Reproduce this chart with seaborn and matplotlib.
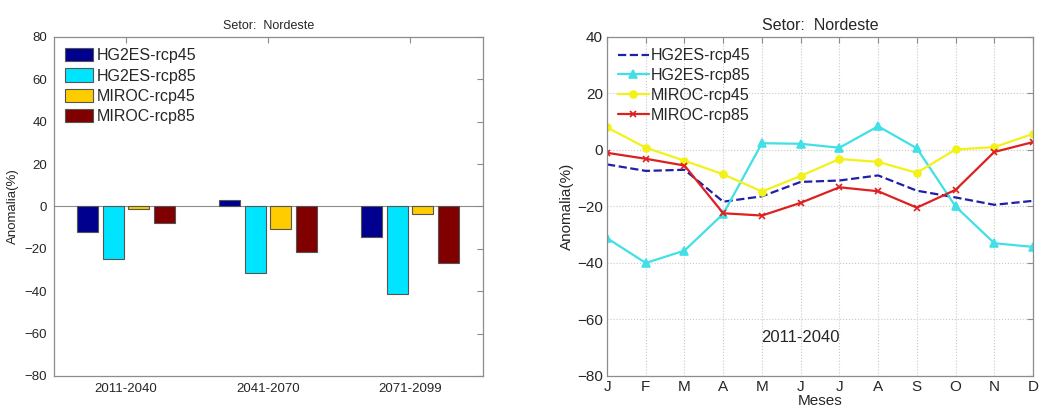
import numpy as np
import pandas as pd
import matplotlib
matplotlib.use("Agg")
import matplotlib.pyplot as plt
import seaborn as sbn

sbn.set_style("white")
plt.rcParams['font.family'] = ['Liberation Sans', 'DejaVu Sans']

# dados do painel de barras
periodos = ["2011-2040", "2041-2070", "2071-2099"]
modelos = ["HG2ES-rcp45", "HG2ES-rcp85", "MIROC-rcp45", "MIROC-rcp85"]
hg45_bar = [-12.0, 3.2, -14.5]
hg85_bar = [-25.0, -31.2, -41.3]
mi45_bar = [-1.0, -10.7, -3.6]
mi85_bar = [-7.7, -21.3, -26.8]

# dados mensais (2011-2040)
meses = ["J", "F", "M", "A", "M", "J", "J", "A", "S", "O", "N", "D"]
hg45_mes = [-5.1, -7.4, -7.0, -18.3, -16.4, -11.3, -10.8, -9.0, -14.4, -16.8, -19.4, -18.0]
hg85_mes = [-31.2, -40.0, -35.6, -22.6, 2.4, 2.2, 0.8, 8.4, 0.6, -20.0, -33.0, -34.3]
mi45_mes = [8.0, 0.8, -3.8, -8.6, -14.7, -9.2, -3.2, -4.2, -8.1, 0.2, 1.0, 5.7]
mi85_mes = [-1.0, -3.1, -5.5, -22.4, -23.2, -18.7, -13.2, -14.6, -20.4, -14.1, -0.7, 2.8]

cores_bar = ["#00008f", "#00e5ff", "#ffcc00", "#800000"]
borda = "#8c8c8c"

fig = plt.figure(figsize=(10.4, 4.12), dpi=100)
ax1 = fig.add_axes([0.0519, 0.0874, 0.4125, 0.8228])
ax2 = fig.add_axes([0.5837, 0.0874, 0.4096, 0.8228])

# ---- barras ----
df_bar = pd.DataFrame({
    "periodo": periodos * 4,
    "modelo": np.repeat(modelos, 3),
    "valor": hg45_bar + hg85_bar + mi45_bar + mi85_bar,
})
sbn.barplot(data=df_bar, x="periodo", y="valor", hue="modelo", order=periodos,
            hue_order=modelos, palette=cores_bar, saturation=1, width=0.73, gap=0.19,
            edgecolor="#555555", linewidth=0.8, ax=ax1, legend=True)
ax1.axhline(0, color=borda, lw=0.8, zorder=0.5)
ax1.set_ylim(-80, 80)
ax1.set_xlim(-0.507, 2.514)
ax1.set_yticks(range(-80, 81, 20))
ax1.set_xlabel("")
ax1.set_ylabel("Anomalia(%)", fontsize=9.5, labelpad=4)
ax1.set_title("Setor:  Nordeste", fontsize=9, pad=6)
ax1.tick_params(labelsize=9.5, direction="in", length=4, top=True, right=True,
                color=borda, pad=5)
ax1.legend(loc="upper left", frameon=False, fontsize=11.5, handlelength=1.75,
           handleheight=0.9, handletextpad=0.2, labelspacing=0.32,
           borderaxespad=0.3, bbox_to_anchor=(0.0, 1.0))

# ---- linhas ----
estilos = [
    ("HG2ES-rcp45", hg45_mes, "#1f1fa8", "--", None, 0),
    ("HG2ES-rcp85", hg85_mes, "#40e0e6", "-", "^", 6),
    ("MIROC-rcp45", mi45_mes, "#f2f21a", "-", "o", 5),
    ("MIROC-rcp85", mi85_mes, "#dd2020", "-", "x", 5),
]
x_mes = np.arange(len(meses))
for nome, vals, cor, ls, mk, ms in estilos:
    sbn.lineplot(x=x_mes, y=vals, color=cor, linestyle=ls, marker=mk,
                 markersize=ms, markeredgecolor=cor, markeredgewidth=1.2,
                 linewidth=1.6, label=nome, ax=ax2)
ax2.set_xlim(0, 11)
ax2.set_ylim(-80, 40)
ax2.set_xticks(x_mes)
ax2.set_xticklabels(meses)
ax2.set_yticks(range(-80, 41, 20))
ax2.grid(True, linestyle=":", color="#c8c8c8", linewidth=0.8)
ax2.set_xlabel("Meses", fontsize=11, labelpad=0)
ax2.set_ylabel("Anomalia(%)", fontsize=11, labelpad=2)
ax2.set_title("Setor:  Nordeste", fontsize=11.5, pad=5)
ax2.tick_params(labelsize=11, direction="in", length=4, top=True, right=True,
                color=borda, pad=3)
ax2.text(5, -66.5, "2011-2040", ha="center", va="center", fontsize=12)
ax2.legend(loc="upper left", frameon=False, fontsize=11.5, handlelength=1.9,
           handletextpad=0.15, labelspacing=0.3, borderaxespad=0.3)

for ax in (ax1, ax2):
    for s in ax.spines.values():
        s.set_color(borda)
        s.set_linewidth(0.9)

fig.savefig("out.png", dpi=100)
